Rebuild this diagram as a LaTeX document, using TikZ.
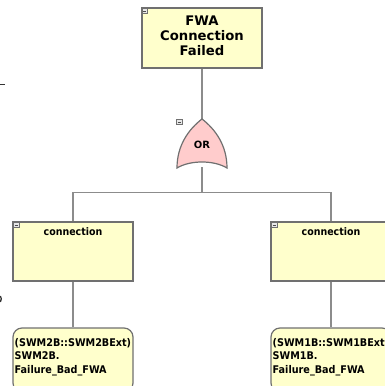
\documentclass[tikz,border=0pt]{standalone}
\usepackage{fontspec}
\setmainfont{DejaVu Sans}
\newfontfamily\narrowfont[FakeStretch=0.91]{DejaVu Sans}
\begin{document}
\begin{tikzpicture}[x=1pt,y=-1pt,
  evbox/.style={draw=boxgray, line width=1.2pt, fill=evfill, rectangle, inner sep=0pt},
  conn/.style={draw=linegray, line width=1.3pt},
  mini/.style={draw=boxgray, fill=minifill, line width=0.5pt},
  toptext/.style={font=\bfseries\fontsize{13.2}{15}\selectfont, align=center, inner sep=0pt},
  midtext/.style={font=\narrowfont\bfseries\fontsize{10.4}{13.5}\selectfont, inner sep=0pt},
  bottext/.style={font=\narrowfont\bfseries\fontsize{10.6}{13.6}\selectfont, align=left, inner sep=0pt}
]
\definecolor{boxgray}{HTML}{707070}
\definecolor{linegray}{HTML}{8C8C8C}
\definecolor{evfill}{HTML}{FFFFCC}
\definecolor{gatefill}{HTML}{FFCCCC}
\definecolor{minifill}{HTML}{E8E8E8}
\useasboundingbox (0,0) rectangle (385,386);
\clip (0,0) rectangle (385,386);
% nodes
\node[evbox, minimum width=120pt, minimum height=60pt] (top) at (202,38) {};
\node[toptext] (toplabel) at (202,36) {FWA\\Connection\\Failed};
\node[inner sep=0pt, minimum width=50pt, minimum height=48pt] (gate) at (202,143) {};
\node[evbox, minimum width=120pt, minimum height=59pt] (c1) at (73,251.5) {};
\node[evbox, minimum width=120pt, minimum height=59pt] (c2) at (331,251.5) {};
\node[evbox, rounded corners=9pt, minimum width=120pt, minimum height=64pt] (b1) at (73,360) {};
\node[evbox, rounded corners=9pt, minimum width=120pt, minimum height=64pt] (b2) at (331,360) {};
% connectors
\draw[conn] (top.south) -- (gate.north);
\draw[conn] (gate.south) -- ++(0,25) -| (c1.north);
\draw[conn] (gate.south) -- ++(0,25) -| (c2.north);
\draw[conn] (c1.south) -- (b1.north);
\draw[conn] (c2.south) -- (b2.north);
% gate shape
\draw[draw=boxgray, line width=1.2pt, fill=gatefill]
  (202,119) .. controls (189,129) and (177,145) .. (177,168)
  .. controls (190,160) and (214,160) .. (227,168)
  .. controls (227,145) and (215,129) .. (202,119) -- cycle;
\node[font=\bfseries\fontsize{10}{11}\selectfont, inner sep=0pt] (orlabel) at (202,145) {OR};
% texts
\node[midtext, anchor=north] (c1label) at (73,227.5) {connection};
\node[midtext, anchor=north] (c2label) at (331,227.5) {connection};
\node[bottext, anchor=north west] (b1label) at (14.5,338) {(SWM2B::SWM2BExt)\\SWM2B.\\Failure\_Bad\_FWA};
\node[bottext, anchor=north west] (b2label) at (272.5,338) {(SWM1B::SWM1BExt)\\SWM1B.\\Failure\_Bad\_FWA};
% collapse markers
\foreach \p in {(142,8.5),(176.5,119.5),(13.5,222.5),(271.5,222.5)} {
  \draw[mini] \p rectangle ++(5.5,4.5);
  \draw[black!70, line width=0.5pt] \p ++(1.2,2.25) -- ++(3.1,0);
}
% partial marks at left edge
\draw[black!80, line width=1.3pt] (0,84.5) -- (4.5,84.5);
\draw[black!80, line width=1.3pt] (0.3,296) .. controls (1.6,298.5) .. (0.3,302);
\end{tikzpicture}
\end{document}
